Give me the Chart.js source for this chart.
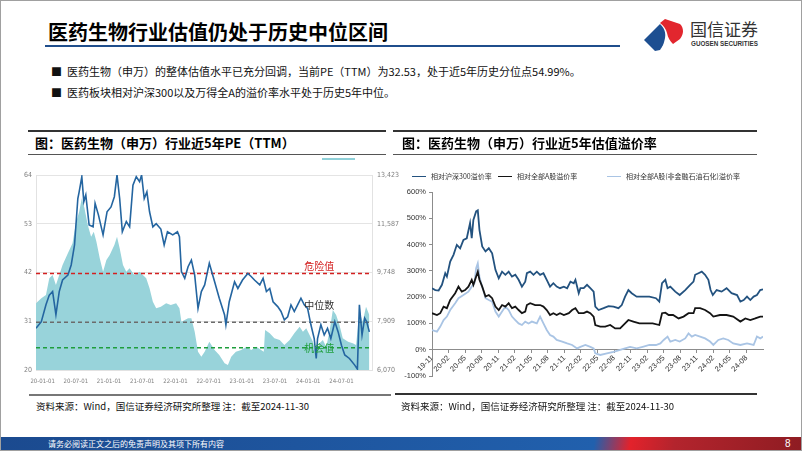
<!DOCTYPE html>
<html>
<head>
<meta charset="utf-8">
<script src="https://cdn.jsdelivr.net/npm/chart.js@4.4.1/dist/chart.umd.min.js"></script>
<style>
  body { margin: 0; background: #fff; }
  #slide { position: relative; width: 802px; height: 451px; overflow: hidden; background: #fff;
    font-family: "Noto Sans CJK SC", "Noto Sans", sans-serif; color: #000; }
  .abs { position: absolute; white-space: nowrap; }
  canvas { position: absolute; }
  .lg { position: absolute; top: 170px; font-size: 7px; line-height: 12px; color: #333; white-space: nowrap; }
  .lg i { display: inline-block; width: 14px; height: 0; border-top: 1.8px solid; vertical-align: middle; margin-right: 5px; position: relative; top: -1px; }
</style>
</head>
<body>
<div id="slide">
  <div class="abs" style="left:48px;top:18px;font-size:20px;font-weight:700;line-height:28px;">医药生物行业估值仍处于历史中位区间</div>
  <div class="abs" style="left:45px;top:45px;width:575px;height:2px;background:#1f4e8c;"></div>

  <svg class="abs" style="left:640px;top:14px;" width="48" height="40" viewBox="0 0 48 40">
    <path d="M4 26 L20 10 C24 14 26 18 25 24 C24 30 22 33 20 36 L15 37 Z" fill="#1d4f91"/>
    <path d="M20 9 L25 5 L40 10 C44 14 44 20 40 25 L33 30 C30 27 28 24 27 19 C26 15 24 12 20 9 Z" fill="#e2262e"/>
  </svg>
  <div class="abs" style="left:690px;top:18px;font-size:17px;line-height:22px;color:#333;">国信证券</div>
  <div class="abs" style="left:691px;top:39px;font-size:6.3px;font-weight:700;line-height:9px;color:#333;font-family:'Liberation Sans',Arial,sans-serif;">GUOSEN SECURITIES</div>

  <div class="abs" style="left:51px;top:63px;font-size:11px;line-height:16px;color:#111;">■&nbsp; 医药生物（申万）的整体估值水平已充分回调，当前PE（TTM）为32.53，处于近5年历史分位点54.99%。</div>
  <div class="abs" style="left:51px;top:84px;font-size:11px;line-height:16px;color:#111;">■&nbsp; 医药板块相对沪深300以及万得全A的溢价率水平处于历史5年中位。</div>

  <!-- left panel -->
  <div class="abs" style="left:28px;top:130px;width:358px;height:1.5px;background:#333;"></div>
  <div class="abs" style="left:35px;top:134px;font-size:13px;font-weight:700;line-height:18px;">图：医药生物（申万）行业近5年PE（TTM）</div>
  <div class="abs" style="left:28px;top:154px;width:358px;height:1px;background:#555;"></div>
  <div class="abs" style="left:322px;top:158px;width:33px;height:1.5px;background:#8fd0d8;"></div>
  <canvas id="peChart" width="386" height="222" style="left:14px;top:165px;"></canvas>
  <div class="abs" style="left:29px;top:394px;width:362px;height:2px;background:#777;"></div>
  <div class="abs" style="left:36px;top:399px;font-size:9.5px;line-height:14px;color:#111;">资料来源：Wind，国信证券经济研究所整理 注：截至2024-11-30</div>

  <!-- right panel -->
  <div class="abs" style="left:393px;top:130px;width:364px;height:1.5px;background:#333;"></div>
  <div class="abs" style="left:402px;top:134px;font-size:13px;font-weight:700;line-height:18px;">图：医药生物（申万）行业近5年估值溢价率</div>
  <div class="abs" style="left:393px;top:154px;width:364px;height:1px;background:#555;"></div>
  <div class="lg" style="left:412px;"><i style="color:#23527f"></i>相对沪深300溢价率</div>
  <div class="lg" style="left:498px;"><i style="color:#141414"></i>相对全部A股溢价率</div>
  <div class="lg" style="left:607px;"><i style="color:#a9c4e4"></i>相对全部A股(非金融石油石化)溢价率</div>
  <canvas id="premChart" width="385" height="221" style="left:390px;top:166px;"></canvas>
  <div class="abs" style="left:395px;top:393px;width:362px;height:1.5px;background:#333;"></div>
  <div class="abs" style="left:401px;top:399px;font-size:9.5px;line-height:14px;color:#111;">资料来源：Wind，国信证券经济研究所整理 注：截至2024-11-30</div>

  <!-- footer -->
  <div class="abs" style="left:0;top:437px;width:802px;height:14px;background:linear-gradient(100deg,#1b4a8f 0%,#2160ad 74%,#e3222b 78.5%,#b3242d 84%,#8e1c22 100%);"></div>
  <div class="abs" style="left:48px;top:437px;font-size:8px;line-height:13px;color:#fff;">请务必阅读正文之后的免责声明及其项下所有内容</div>
  <div class="abs" style="left:785px;top:437px;font-size:10px;line-height:14px;color:#fff;font-family:'Liberation Sans',Arial,sans-serif;">8</div>
  <div class="abs" style="left:0;top:0;width:802px;height:451px;box-sizing:border-box;border:1px solid #a0a0a0;pointer-events:none;"></div>
</div>

<script>
// ---------- 左图：PE(TTM) 与 指数 ----------
const peX = [2019.90, 2019.98, 2020.05, 2020.10, 2020.15, 2020.20, 2020.25, 2020.30, 2020.38, 2020.43,
  2020.48, 2020.53, 2020.55, 2020.59, 2020.62, 2020.65, 2020.70, 2020.76, 2020.79, 2020.84,
  2020.91, 2020.97, 2021.03, 2021.08, 2021.12, 2021.16, 2021.20, 2021.26, 2021.31, 2021.36,
  2021.41, 2021.46, 2021.49, 2021.53, 2021.57, 2021.61, 2021.66, 2021.71, 2021.78, 2021.83,
  2021.88, 2021.96, 2022.03, 2022.06, 2022.09, 2022.14, 2022.19, 2022.24, 2022.29, 2022.34,
  2022.39, 2022.44, 2022.51, 2022.59, 2022.66, 2022.74, 2022.76, 2022.81, 2022.89, 2022.94,
  2023.01, 2023.09, 2023.14, 2023.19, 2023.27, 2023.32, 2023.37, 2023.42, 2023.47, 2023.54,
  2023.59, 2023.64, 2023.69, 2023.74, 2023.79, 2023.84, 2023.89, 2023.94, 2023.99, 2024.04,
  2024.09, 2024.12, 2024.14, 2024.19, 2024.24, 2024.29, 2024.34, 2024.40, 2024.45, 2024.50,
  2024.55, 2024.62, 2024.70, 2024.74, 2024.77, 2024.81, 2024.85, 2024.88, 2024.92];
const peY = [29.4, 30.9, 34.7, 36.9, 37.7, 32.5, 37.7, 40.3, 41.4, 43.7,
  48.2, 58.7, 60.2, 63.6, 58.0, 59.5, 52.7, 52.3, 57.6, 55.0,
  50.5, 55.7, 56.8, 59.1, 64.0, 58.7, 51.2, 53.5, 52.3, 61.7,
  63.6, 62.5, 64.0, 58.7, 60.2, 55.7, 52.3, 53.0, 51.8, 48.2,
  51.2, 50.5, 51.2, 50.1, 42.2, 40.7, 43.3, 44.8, 41.4, 33.9,
  37.7, 39.2, 44.1, 39.9, 36.2, 32.4, 30.2, 35.4, 39.9, 38.4,
  40.3, 41.8, 41.1, 40.3, 39.2, 40.7, 37.7, 38.4, 35.4, 34.3,
  33.2, 31.3, 32.0, 34.7, 33.2, 34.7, 36.2, 34.7, 33.9, 30.2,
  27.1, 22.6, 27.1, 30.2, 27.9, 29.4, 27.1, 30.9, 28.6, 25.6,
  23.4, 22.6, 21.1, 20.2, 34.7, 27.9, 31.7, 30.9, 28.6];

const idxX = [2019.90, 2019.98, 2020.05, 2020.10, 2020.15, 2020.20, 2020.25, 2020.30, 2020.38, 2020.45,
  2020.50, 2020.55, 2020.59, 2020.63, 2020.68, 2020.73, 2020.77, 2020.81, 2020.86, 2020.91,
  2020.96, 2021.01, 2021.08, 2021.12, 2021.16, 2021.21, 2021.26, 2021.31, 2021.38, 2021.46,
  2021.51, 2021.56, 2021.61, 2021.66, 2021.71, 2021.78, 2021.86, 2021.93, 2022.01, 2022.06,
  2022.09, 2022.14, 2022.19, 2022.24, 2022.29, 2022.34, 2022.39, 2022.44, 2022.51, 2022.59,
  2022.66, 2022.74, 2022.79, 2022.84, 2022.91, 2022.99, 2023.07, 2023.14, 2023.22, 2023.29,
  2023.33, 2023.35, 2023.42, 2023.49, 2023.57, 2023.64, 2023.72, 2023.79, 2023.87, 2023.92,
  2023.97, 2024.02, 2024.07, 2024.12, 2024.17, 2024.22, 2024.27, 2024.32, 2024.37, 2024.42,
  2024.47, 2024.52, 2024.60, 2024.67, 2024.72, 2024.77, 2024.82, 2024.87, 2024.92];
const idxY = [8584, 8773, 8898, 9527, 9652, 9275, 9652, 10030, 10470, 10847,
  11601, 12041, 12544, 12167, 11538, 11098, 11287, 10910, 10281, 9778,
  10218, 10407, 10784, 11098, 10658, 10030, 9778, 9904, 9652, 9778,
  9652, 9527, 9150, 8647, 8395, 8458, 8584, 8521, 8584, 8395,
  7893, 7955, 8018, 8018, 7516, 6761, 6573, 6761, 7138, 6824,
  6636, 6321, 6259, 6573, 6761, 6824, 6950, 6824, 6950, 6824,
  6761, 7578, 7453, 7264, 7201, 7013, 7201, 7453, 7704, 7516,
  7641, 7390, 7138, 6636, 7076, 7201, 6950, 7516, 8333, 8144,
  7767, 7264, 7138, 7076, 7013, 8270, 7893, 8458, 8144];

const refNames = ['危险值', '中位数', '机会值'];
const refValues = [41.8, 30.8, 25.0];
const refColors = ['#d42020', '#6b6b6b', '#1e9e3c'];
const refTextColors = ['#d42020', '#333333', '#1e9e3c'];
const refLabelOffset = [7, 17, 0];

const peTicks = [20, 31, 42, 53, 64];
const idxTicks = [6070, 7909, 9748, 11587, 13423];
const idxTickLabels = ['6,070', '7,909', '9,748', '11,587', '13,423'];
const dateTicks = [2020.0, 2020.5, 2021.0, 2021.5, 2022.0, 2022.5, 2023.0, 2023.5, 2024.0, 2024.5];
const dateTickLabels = ['20-01-01', '20-07-01', '21-01-01', '21-07-01', '22-01-01',
  '22-07-01', '23-01-01', '23-07-01', '24-01-01', '24-07-01'];

// ---------- 右图：溢价率 ----------
const hs300Month = [0, 0.6, 1.2, 1.8, 2.4, 2.7, 3.3, 3.9, 4.5, 5.1, 5.7, 6.3, 6.9, 7.2, 7.5, 8.0, 8.3, 8.6,
  9.1, 9.7, 10.3, 10.9, 11.5, 12.1, 12.7, 13.3, 13.9, 14.5, 15.1, 15.7, 16.3, 16.9, 17.2, 17.8,
  18.4, 19.0, 19.6, 20.2, 20.8, 21.4, 22.0, 22.6, 23.2, 23.9, 24.5, 25.1, 25.7, 26.0, 26.6,
  26.9, 27.5, 28.1, 28.7, 29.3, 29.6, 30.2, 31.1, 32.0, 32.9, 33.8, 34.4, 35.0, 35.6, 36.2,
  37.1, 38.2, 39.4, 40.6, 41.2, 41.7, 42.3, 42.7, 43.2, 44.1, 44.9, 45.9, 46.8, 47.4, 47.7,
  48.3, 48.9, 49.5, 50.1, 50.5, 50.9, 51.6, 52.5, 53.4, 54.3, 55.3, 55.9, 56.5, 57.1, 57.7,
  58.3, 58.9, 59.5, 60.0];
const hs300Prem = [234, 227, 225, 247, 291, 278, 335, 361, 399, 386, 418, 424, 482, 424, 494, 526, 530, 456,
  393, 374, 386, 367, 304, 272, 297, 285, 297, 278, 285, 266, 240, 259, 291, 297,
  285, 297, 285, 291, 266, 240, 253, 240, 234, 240, 234, 259, 253, 266, 215,
  234, 234, 247, 234, 221, 164, 151, 158, 166, 164, 158, 170, 202, 227, 215,
  202, 202, 202, 196, 183, 253, 266, 234, 240, 221, 208, 227, 247, 259, 285,
  291, 297, 285, 266, 227, 208, 227, 221, 234, 215, 208, 183, 189, 202, 189,
  202, 208, 227, 230];

const allAMonth = [0, 0.9, 1.5, 2.1, 2.7, 3.3, 4.2, 4.8, 5.4, 6.0, 6.6, 7.2, 7.5, 8.3, 8.6, 9.1, 9.7,
  10.3, 10.9, 11.5, 12.1, 12.7, 13.3, 13.9, 14.5, 15.1, 15.7, 16.3, 16.9, 17.2, 17.8, 18.7,
  19.6, 20.2, 20.8, 21.4, 22.0, 22.6, 23.2, 23.9, 24.8, 25.4, 26.0, 26.6,
  27.5, 28.1, 28.7, 29.3, 29.6, 30.5, 31.4, 32.3, 33.2, 34.1, 35.0, 35.6, 36.5, 37.6, 38.8,
  40.0, 41.2, 41.7, 42.3, 42.9, 43.7, 44.7, 45.6, 46.5, 47.4, 47.7, 48.6, 49.5, 50.4, 51.0,
  52.2, 53.4, 54.6, 55.9, 56.8, 57.7, 58.6, 59.5, 60.0];
const allAPrem = [139, 132, 139, 164, 158, 189, 215, 240, 221, 227, 240, 266, 247, 297, 266, 240, 202,
  208, 196, 164, 151, 170, 164, 177, 158, 164, 151, 139, 145, 170, 177, 170,
  170, 164, 151, 132, 139, 132, 139, 132, 139, 151, 158, 139,
  139, 145, 139, 126, 94, 88, 88, 94, 81, 81, 100, 113, 107, 100, 100,
  100, 94, 139, 141, 132, 132, 119, 126, 139, 139, 158, 158, 151, 139, 126,
  132, 132, 126, 107, 119, 113, 119, 126, 126];

const exFinMonth = [0, 0.9, 1.5, 2.1, 2.7, 3.3, 4.2, 4.8, 5.7, 6.6, 7.2, 7.7, 8.0, 8.3, 8.6, 9.1, 9.7,
  10.3, 10.9, 11.5, 12.1, 12.7, 13.3, 13.9, 14.5, 15.1, 15.7, 16.3, 16.9, 17.5, 18.1, 19.0,
  19.6, 20.2, 20.8, 21.4, 22.0, 22.6, 23.6, 24.5, 25.4, 26.3,
  26.9, 27.8, 28.7, 29.3, 29.6, 30.5, 31.7, 32.9, 34.1, 35.0, 35.9, 37.1, 38.2, 39.4, 40.6,
  41.4, 42.0, 42.7, 43.2, 44.1, 44.9, 45.9, 46.5, 47.1, 47.7, 48.6, 49.5, 50.4, 51.0, 51.9,
  52.8, 53.7, 54.6, 55.9, 57.1, 58.3, 58.9, 59.5, 60.0];
const exFinPrem = [75, 69, 88, 113, 126, 151, 177, 196, 208, 221, 240, 253, 310, 329, 278, 240, 196,
  189, 183, 145, 126, 145, 164, 151, 126, 113, 100, 94, 107, 100, 107, 100,
  126, 100, 75, 56, 50, 37, 31, 24, 18, 5,
  11, 18, 11, 5, -14, -20, -14, -8, -1, 5, 11, 5, 11, 18, 18,
  24, 37, 50, 31, 37, 31, 43, 62, 50, 56, 50, 43, 31, 18, 37,
  43, 37, 24, 18, 24, 18, 50, 43, 50];

const premTickLabels = ['19-11', '20-02', '20-05', '20-08', '20-11', '21-02', '21-05', '21-08', '21-11', '22-02',
  '22-05', '22-08', '22-11', '23-02', '23-05', '23-08', '23-11', '24-02', '24-05', '24-08'];
const seriesNames = ['相对沪深300溢价率', '相对全部A股溢价率', '相对全部A股(非金融石油石化)溢价率'];

const toPoints = (xs, ys) => xs.map((x, i) => ({x: x, y: ys[i]}));
const narrowFont = "'Liberation Sans Narrow','DejaVu Sans Condensed','Liberation Sans',sans-serif";

const refLabelPlugin = {
  id: 'refLabels',
  afterDatasetsDraw(chart) {
    const {ctx, scales} = chart;
    ctx.save();
    ctx.font = '10px "Noto Sans CJK SC"';
    ctx.textAlign = 'left';
    ctx.textBaseline = 'middle';
    refNames.forEach((name, i) => {
      ctx.fillStyle = refTextColors[i];
      ctx.fillText(name, scales.x.getPixelForValue(2023.94), scales.y.getPixelForValue(refValues[i]) - refLabelOffset[i]);
    });
    ctx.restore();
  }
};

const peDatasets = [{
  label: 'PE(TTM)',
  data: toPoints(peX, peY),
  yAxisID: 'y',
  borderColor: '#2465a0',
  borderWidth: 1.6,
  pointRadius: 0,
  tension: 0,
  order: 0
}];
refValues.forEach((v, i) => {
  peDatasets.push({
    label: refNames[i],
    data: [{x: 2019.90, y: v}, {x: 2024.96, y: v}],
    yAxisID: 'y',
    borderColor: refColors[i],
    borderWidth: 1.5,
    borderDash: [4, 3],
    pointRadius: 0,
    order: 1
  });
});
peDatasets.push({
  label: '申万医药生物指数',
  data: toPoints(idxX, idxY),
  yAxisID: 'yR',
  borderWidth: 0,
  borderColor: 'rgba(0,0,0,0)',
  backgroundColor: '#98d3da',
  fill: 'start',
  pointRadius: 0,
  tension: 0,
  order: 2
});

new Chart(document.getElementById('peChart'), {
  type: 'line',
  data: { datasets: peDatasets },
  options: {
    responsive: false,
    animation: false,
    layout: { padding: { top: 10, left: 0, right: 0, bottom: 0 } },
    plugins: { legend: { display: false }, tooltip: { enabled: false } },
    scales: {
      x: {
        type: 'linear', min: 2019.90, max: 2024.96,
        afterBuildTicks: (s) => { s.ticks = dateTicks.map(v => ({value: v})); },
        afterFit: (s) => { s.height = 17; },
        ticks: { autoSkip: false, maxRotation: 0, padding: 0, color: '#808080',
          font: { size: 6, family: narrowFont },
          callback: (v, i) => dateTickLabels[i] },
        grid: { display: false },
        border: { display: true, color: '#e2e2e2' }
      },
      y: {
        position: 'left', min: 20, max: 64,
        afterBuildTicks: (s) => { s.ticks = peTicks.map(v => ({value: v})); },
        afterFit: (s) => { s.width = 22; },
        ticks: { padding: 4, color: '#808080', font: { size: 7, family: narrowFont } },
        grid: { color: '#e4e4e4', drawTicks: false },
        border: { display: true, color: '#e2e2e2' }
      },
      yR: {
        position: 'right', min: 6070, max: 13423,
        afterBuildTicks: (s) => { s.ticks = idxTicks.map(v => ({value: v})); },
        afterFit: (s) => { s.width = 28; },
        ticks: { padding: 5, color: '#808080', font: { size: 7, family: narrowFont },
          callback: (v, i) => idxTickLabels[i] },
        grid: { display: false, drawTicks: false },
        border: { display: true, color: '#e2e2e2' }
      }
    }
  },
  plugins: [refLabelPlugin]
});

new Chart(document.getElementById('premChart'), {
  type: 'line',
  data: {
    datasets: [
      { label: seriesNames[0], data: toPoints(hs300Month, hs300Prem), borderColor: '#23527f', borderWidth: 1.8,
        pointRadius: 0, tension: 0 },
      { label: seriesNames[1], data: toPoints(allAMonth, allAPrem), borderColor: '#141414', borderWidth: 1.8,
        pointRadius: 0, tension: 0 },
      { label: seriesNames[2], data: toPoints(exFinMonth, exFinPrem), borderColor: '#a9c4e4', borderWidth: 1.8,
        pointRadius: 0, tension: 0 }
    ]
  },
  options: {
    responsive: false,
    animation: false,
    layout: { padding: { top: 26, left: 0, right: 12, bottom: 11 } },
    plugins: {
      tooltip: { enabled: false },
      legend: { display: false }
    },
    scales: {
      x: {
        type: 'linear', min: 0, max: 60,
        position: { y: 0 },
        afterBuildTicks: (s) => { s.ticks = premTickLabels.map((l, i) => ({value: i * 3})); },
        ticks: { autoSkip: false, minRotation: 45, maxRotation: 45, padding: 1, color: '#333',
          font: { size: 7.5, family: "'Liberation Sans',Arial,sans-serif" },
          callback: (v, i) => premTickLabels[i] },
        grid: { drawOnChartArea: false, drawTicks: true, tickLength: 3, color: '#8c8c8c' },
        border: { display: true, color: '#8c8c8c', width: 1 }
      },
      y: {
        min: -100, max: 600,
        afterFit: (s) => { s.width = 42; },
        ticks: { stepSize: 100, padding: 3, color: '#333',
          font: { size: 7.5, family: "'Liberation Sans',Arial,sans-serif" },
          callback: (v) => v + '%' },
        grid: { drawOnChartArea: false, drawTicks: true, tickLength: 3, color: '#8c8c8c' },
        border: { display: true, color: '#8c8c8c', width: 1 }
      }
    }
  }
});
</script>
</body>
</html>
